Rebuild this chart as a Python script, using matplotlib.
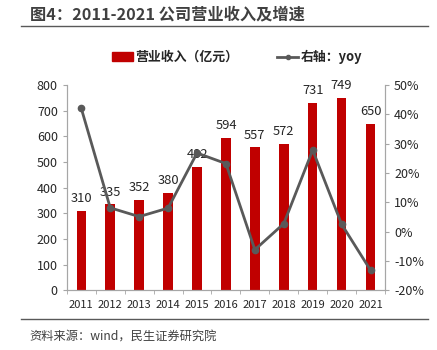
import matplotlib
matplotlib.use("Agg")
import matplotlib.pyplot as plt
from matplotlib.ticker import FuncFormatter, MultipleLocator
from matplotlib.lines import Line2D

plt.rcParams['font.family'] = ['Noto Sans CJK SC', 'DejaVu Sans']

years = ['2011', '2012', '2013', '2014', '2015', '2016', '2017', '2018', '2019', '2020', '2021']
revenue = [310, 335, 352, 380, 482, 594, 557, 572, 731, 749, 650]
yoy = [42.0, 8.1, 5.1, 8.0, 26.8, 23.2, -6.2, 2.7, 27.8, 2.5, -13.2]

bar_color = '#C00000'
line_color = '#595959'
text_color = '#262626'
spine_color = '#A6A6A6'

fig = plt.figure(figsize=(4.37, 3.5), dpi=100)
ax = fig.add_axes([0.153, 0.171, 0.728, 0.586])
ax2 = ax.twinx()

x = list(range(len(years)))
ax.bar(x, revenue, width=0.33, color=bar_color, zorder=2)
for xi, v in zip(x, revenue):
    ax.text(xi, v + 22, str(v), ha='center', va='bottom', fontsize=9.3, color=text_color, zorder=5)

ax2.plot(x, yoy, color=line_color, lw=2, marker='o', ms=4.5, zorder=3)

ax.set_ylim(0, 800)
ax.yaxis.set_major_locator(MultipleLocator(100))
ax2.set_ylim(-20, 50)
ax2.yaxis.set_major_locator(MultipleLocator(10))
ax2.yaxis.set_major_formatter(FuncFormatter(lambda v, p: f'{int(round(v))}%'))

ax.set_xlim(-0.5, len(years) - 0.5)
ax.set_xticks(x)
ax.set_xticklabels(years)
ax.set_xticks([i - 0.5 for i in range(len(years) + 1)], minor=True)
ax.tick_params(axis='x', which='major', length=0, labelsize=8, colors=text_color, pad=7)
ax.tick_params(axis='x', which='minor', length=3, color=spine_color, direction='out')
ax.tick_params(axis='y', labelsize=9, colors=text_color, length=3, color=spine_color)
ax2.tick_params(axis='y', labelsize=9, colors=text_color, length=3, color=spine_color)

for a in (ax, ax2):
    a.spines['top'].set_visible(False)
    for s in ('left', 'right', 'bottom'):
        a.spines[s].set_color(spine_color)
        a.spines[s].set_linewidth(0.8)
ax2.patch.set_visible(False)

# Title
fig.text(0.068, 0.958, '图4：2011-2021 公司营业收入及增速', fontsize=11.7, fontweight='bold',
         color='#404040', ha='left', va='center')
fig.add_artist(Line2D([0.048, 0.98], [0.925, 0.925], color='#595959', lw=1))

# Legend
handles = [plt.Rectangle((0, 0), 1, 1, color=bar_color),
           Line2D([0], [0], color=line_color, lw=2, marker='o', ms=3)]
fig.legend(handles, ['营业收入（亿元）', '右轴：yoy'], loc='center', bbox_to_anchor=(0.543, 0.837),
           ncol=2, frameon=False, prop={'size': 9.3, 'weight': 'bold'}, handlelength=1.6,
           columnspacing=3.0, handletextpad=0.2, labelcolor=text_color)

# Source
fig.add_artist(Line2D([0.048, 0.98], [0.088, 0.088], color='#595959', lw=1))
fig.text(0.068, 0.037, '资料来源：wind，民生证券研究院', fontsize=8.8, color='#404040', ha='left', va='center')

fig.savefig('out.png', dpi=100)
